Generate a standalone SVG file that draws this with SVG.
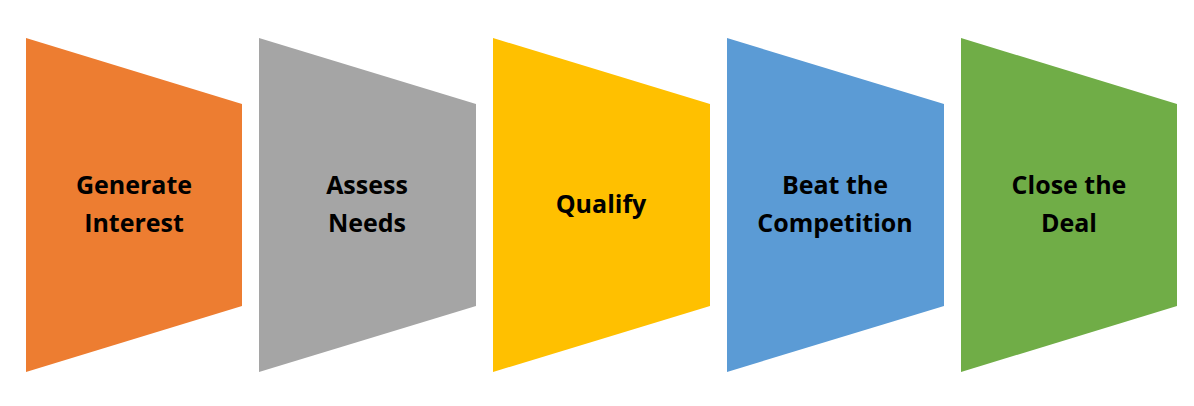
<svg xmlns="http://www.w3.org/2000/svg" width="1194" height="406" viewBox="0 0 1194 406">
<style>
text{font-family:"Open Sans","Noto Sans",sans-serif;font-weight:bold;font-size:25px;fill:#000;text-anchor:middle}
</style>
<rect width="1194" height="406" fill="#fff"/>
<g id="n1"><polygon points="26,38 242,104 242,306 26,372" fill="#ED7D31"/><text x="134" y="194">Generate</text><text x="134" y="232">Interest</text></g>
<g id="n2"><polygon points="259,38 476,104 476,306 259,372" fill="#A5A5A5"/><text x="367" y="194">Assess</text><text x="367" y="232">Needs</text></g>
<g id="n3"><polygon points="493,38 710,104 710,306 493,372" fill="#FFC000"/><text x="601" y="213">Qualify</text></g>
<g id="n4"><polygon points="727,38 944,104 944,306 727,372" fill="#5B9BD5"/><text x="835" y="194">Beat the</text><text x="835" y="232">Competition</text></g>
<g id="n5"><polygon points="961,38 1177,104 1177,306 961,372" fill="#70AD47"/><text x="1069" y="194">Close the</text><text x="1069" y="232">Deal</text></g>
<g id="connectors"/>
</svg>
